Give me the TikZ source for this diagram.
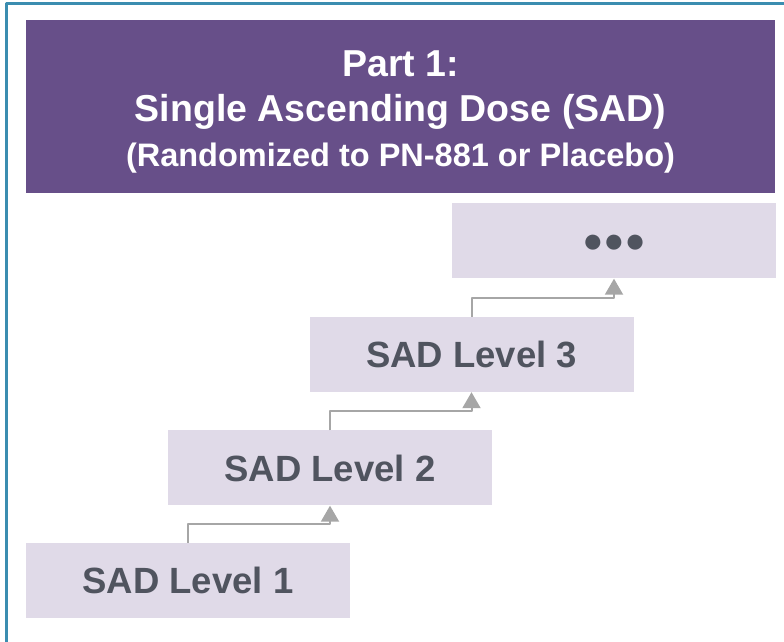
\documentclass[tikz,border=0pt]{standalone}
\usepackage{fontspec}
\setmainfont{Liberation Sans}
\usetikzlibrary{arrows.meta,calc}
\definecolor{frameblue}{HTML}{3B8DB0}
\definecolor{sadpurple}{HTML}{674F89}
\definecolor{sadlight}{HTML}{E0DAE8}
\definecolor{sadtext}{HTML}{50545F}
\definecolor{arrowgray}{HTML}{A6A6A6}
\begin{document}
\begin{tikzpicture}[x=1pt, y=1pt, line join=round,
    titlebox/.style={fill=sadpurple, minimum width=749pt, minimum height=173pt, inner sep=0pt},
    level/.style={fill=sadlight, minimum width=324pt, minimum height=75pt, inner sep=0pt,
        text=sadtext, font=\fontsize{36.5}{40}\selectfont\bfseries},
    stepup/.style={draw=arrowgray, line width=2pt, -{Triangle[width=18pt,length=16pt]}}]
    \useasboundingbox (0,0) rectangle (784,642);
    \draw[frameblue, line width=3pt] (6.5,0) -- (6.5,638.5) -- (784,638.5);
    % header
    \node[titlebox] (part) at (400.5,535.5) {};
    \node[text=white, align=center, inner sep=0pt, font=\fontsize{37.5}{45}\selectfont\bfseries]
        (parttext) at ([yshift=-5pt]part.center)
        {Part 1:\\Single Ascending Dose (SAD)\\
         \fontsize{32.5}{41}\selectfont (Randomized to PN-881 or Placebo)};
    % dose levels
    \node[level] (lvl1) at (188,61.5) {SAD Level 1};
    \node[level] (lvl2) at (330,174) {SAD Level 2};
    \node[level] (lvl3) at (471.5,287.5) {SAD Level 3};
    \node[level, font=\fontsize{35}{36}\selectfont] (more) at (614,401) {\raisebox{-12pt}[0pt][0pt]{●●●}};
    \foreach \a/\b in {lvl1/lvl2, lvl2/lvl3, lvl3/more}
        \draw[stepup] (\a.north) |- ($(\a.north)!.5!(\b.south)$) -| (\b.south);
\end{tikzpicture}
\end{document}
